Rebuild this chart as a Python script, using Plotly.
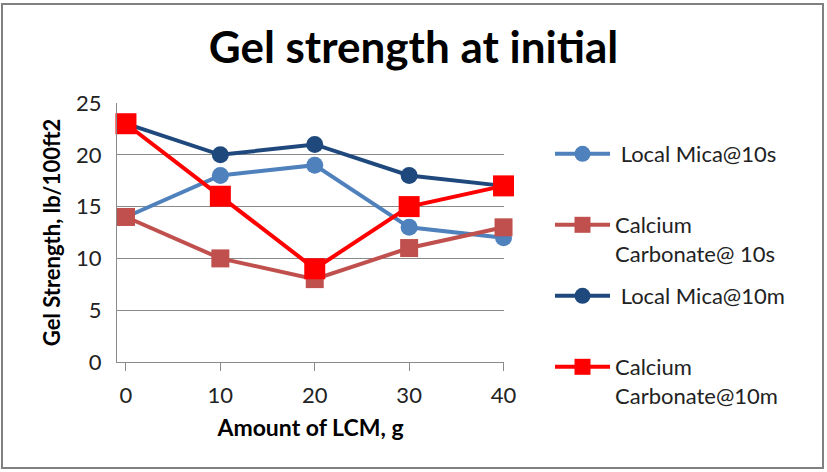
import plotly.graph_objects as go

amount_lcm = [0, 10, 20, 30, 40]
mica_10s = [14, 18, 19, 13, 12]
caco3_10s = [14, 10, 8, 11, 13]
mica_10m = [23, 20, 21, 18, 17]
caco3_10m = [23, 16, 9, 15, 17]

names = ["\u00a0Local Mica@10s", "Calcium<br>Carbonate@ 10s", "\u00a0Local Mica@10m", "Calcium<br>Carbonate@10m"]
series = [mica_10s, caco3_10s, mica_10m, caco3_10m]
colors = ["#4F81BD", "#C0504D", "#1F497D", "#FF0000"]
symbols = ["circle", "square", "circle", "square"]
msizes = [17, 18, 17, 21]
legends = ["legend", "legend2", "legend3", "legend4"]

FONT = "Lato"
W, H = 827, 472
L, R, T, B = 117, 323, 103, 110
pw, ph = W - L - R, H - T - B

def px_x(p):
    return (p - L) / pw

def px_y(p):
    return (H - B - p) / ph

fig = go.Figure()
for nm, ys, c, s, ms, lg in zip(names, series, colors, symbols, msizes, legends):
    fig.add_trace(go.Scatter(
        x=amount_lcm, y=ys, name=nm, mode="lines+markers",
        line=dict(color=c, width=4),
        marker=dict(color=c, symbol=s, size=ms),
        cliponaxis=False, legend=lg,
    ))

legend_tops = [133, 204, 275, 346]
leg_common = dict(font=dict(family=FONT, size=22, color="#222222"), itemwidth=55,
                  valign="top", bgcolor="rgba(0,0,0,0)", xanchor="left", yanchor="top",
                  tracegroupgap=0)
layout_legends = {}
for lg, top in zip(legends, legend_tops):
    layout_legends[lg] = dict(x=px_x(550), y=px_y(top), **leg_common)

axis_gray = "#8A8A8A"
fig.update_layout(
    width=W, height=H,
    margin=dict(l=L, r=R, t=T, b=B),
    paper_bgcolor="white", plot_bgcolor="white",
    font=dict(family=FONT, color="#222222"),
    title=dict(text="<b>Gel strength at initial</b>", x=0.5, xref="container",
               xanchor="center", y=1 - 48 / H, yanchor="middle", yref="container",
               font=dict(family=FONT, size=44, color="#000000")),
    showlegend=True,
    xaxis=dict(range=[-0.95, 40.05], tickvals=amount_lcm, ticktext=[str(v) for v in amount_lcm],
               showgrid=False, zeroline=False, showline=True, linecolor=axis_gray, linewidth=1,
               ticks="outside", ticklen=8, tickcolor=axis_gray, ticklabelstandoff=6,
               tickfont=dict(family=FONT, size=22, color="#222222"),
               title=dict(text="<b>Amount of LCM, g</b>", standoff=12,
                          font=dict(family=FONT, size=23, color="#000000"))),
    yaxis=dict(range=[0, 25], dtick=5, showgrid=True, gridcolor=axis_gray, gridwidth=1,
               zeroline=False, showline=True, linecolor=axis_gray, linewidth=1,
               ticks="", ticklabelstandoff=10,
               tickfont=dict(family=FONT, size=22, color="#222222"),
               title=dict(text="<b>Gel Strength, lb/100ft2</b>", standoff=9,
                          font=dict(family=FONT, size=22, color="#000000"))),
    shapes=[dict(type="rect", xref="paper", yref="paper",
                 x0=px_x(2), x1=px_x(823), y0=px_y(468), y1=px_y(4),
                 line=dict(color="#808080", width=2), fillcolor="rgba(0,0,0,0)", layer="below")],
    **layout_legends,
)

fig.write_html("out.html", config={"displayModeBar": False},
               post_script="document.body.style.margin='0';document.body.style.overflow='hidden';")
